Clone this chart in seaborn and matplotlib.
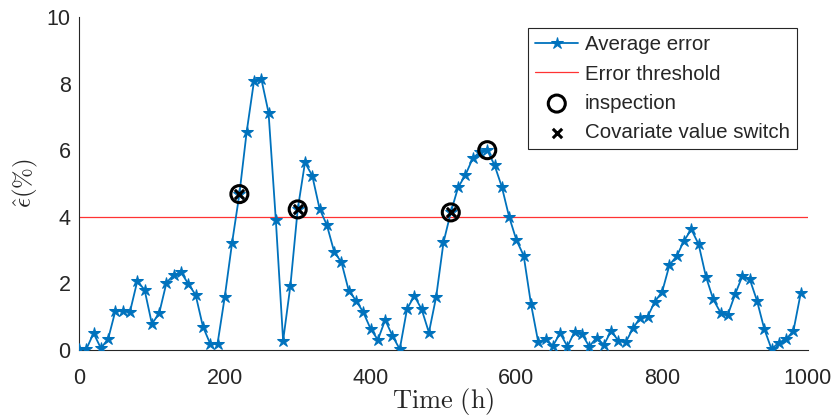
import matplotlib

matplotlib.use("Agg")
import matplotlib.pyplot as plt
import numpy as np
import pandas as pd
import seaborn as sns

# time axis (h) and the average error (%)
time_h = np.arange(0, 1000, 10)
avg_error = [
    0.02, 0.02, 0.50, 0.05, 0.33, 1.18, 1.18, 1.15, 2.07, 1.80,
    0.78, 1.10, 2.02, 2.25, 2.33, 1.98, 1.65, 0.70, 0.18, 0.18,
    1.60, 3.22, 4.68, 6.55, 8.07, 8.15, 7.13, 3.90, 0.28, 1.93,
    4.22, 5.63, 5.23, 4.24, 3.75, 2.95, 2.63, 1.78, 1.48, 1.13,
    0.63, 0.30, 0.90, 0.42, 0.02, 1.23, 1.62, 1.22, 0.52, 1.60,
    3.23, 4.13, 4.88, 5.25, 5.75, 5.95, 6.00, 5.55, 4.90, 4.00,
    3.30, 2.83, 1.38, 0.23, 0.33, 0.12, 0.50, 0.10, 0.55, 0.47,
    0.10, 0.37, 0.15, 0.57, 0.27, 0.23, 0.65, 0.97, 1.00, 1.45,
    1.75, 2.55, 2.82, 3.28, 3.62, 3.17, 2.20, 1.52, 1.12, 1.05,
    1.67, 2.22, 2.13, 1.48, 0.63, 0.02, 0.22, 0.32, 0.57, 1.70,
]
threshold = 4.0
inspection_t = [220, 300, 510, 560]
switch_t = [220, 300, 510]

df = pd.DataFrame({"t": time_h, "err": avg_error})
insp = df[df["t"].isin(inspection_t)]
switch = df[df["t"].isin(switch_t)]

sns.set_style("white")
plt.rcParams["font.family"] = ["Liberation Sans", "DejaVu Sans"]
plt.rcParams["mathtext.fontset"] = "cm"
plt.rcParams["font.size"] = 14

fig = plt.figure(figsize=(8.36, 4.16), dpi=100)
ax = fig.add_axes([0.0945, 0.159, 0.872, 0.8])

sns.lineplot(
    data=df, x="t", y="err", ax=ax, color="#0072BD", linewidth=1.3,
    marker="*", markersize=9, markeredgecolor="#0072BD",
    label="Average error", zorder=3,
)
ax.axhline(threshold, color="red", linewidth=0.9, alpha=0.8,
           label="Error threshold", zorder=2)
sns.scatterplot(
    data=insp, x="t", y="err", ax=ax, marker="o", s=150,
    facecolor="none", edgecolor="black", linewidth=2.2,
    label="inspection", zorder=4,
)
sns.scatterplot(
    data=switch, x="t", y="err", ax=ax, marker="x", s=45,
    color="black", linewidth=2.2, label="Covariate value switch", zorder=5,
)

ax.set_xlim(0, 1000)
ax.set_ylim(0, 10)
ax.set_xticks([0, 200, 400, 600, 800, 1000])
ax.set_yticks([0, 2, 4, 6, 8, 10])
ax.set_xlabel(r"$\mathrm{Time\ (h)}$", fontsize=19, labelpad=-2)
ax.set_ylabel(r"$\hat{\epsilon}(\%)$", fontsize=18, labelpad=5)

for side in ["top", "right"]:
    ax.spines[side].set_visible(False)
for side in ["left", "bottom"]:
    ax.spines[side].set_color("#262626")
    ax.spines[side].set_linewidth(0.8)
ax.tick_params(direction="in", length=5, width=0.8, colors="#262626",
               labelsize=15.5)
ax.tick_params(axis="x", pad=13)
ax.tick_params(axis="y", pad=6)

leg = ax.legend(loc="upper right", bbox_to_anchor=(0.993, 0.985),
                frameon=True, fancybox=False, framealpha=1, fontsize=14.8,
                handlelength=2.1, borderpad=0.35, labelspacing=0.5,
                handletextpad=0.3, borderaxespad=0.3)
leg.get_frame().set_edgecolor("#262626")
leg.get_frame().set_linewidth(0.8)

fig.savefig("out.png", dpi=100)
